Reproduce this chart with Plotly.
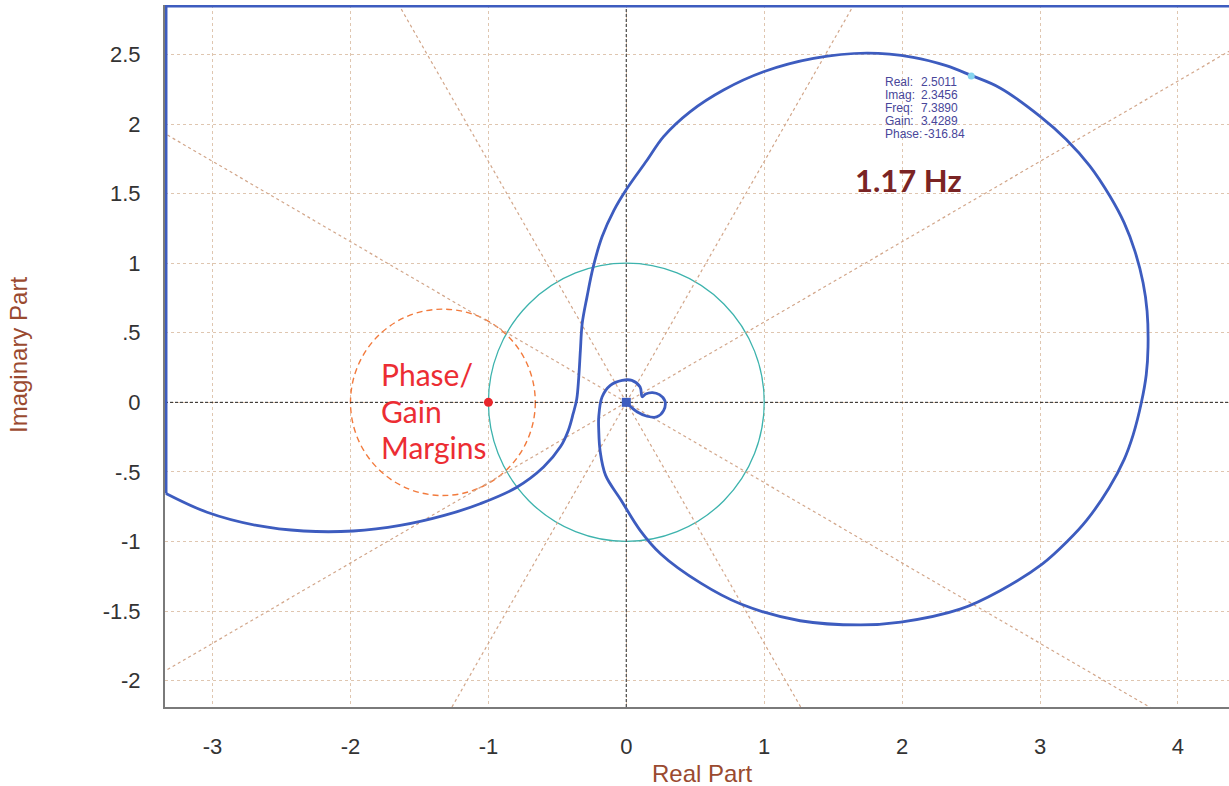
import numpy as np
import plotly.graph_objects as go

# ---------------- data ----------------
# clipped part of the Nyquist locus (held at the frame edges)
edge_re = [4.40, -3.338, -3.338]
edge_im = [2.848, 2.848, -0.655]

# main Nyquist locus (real, imaginary)
nyq_re = [-3.338, -3.04, -2.68, -2.34, -1.98, -1.64, -1.32, -1.06, -0.80, -0.60, -0.478, -0.42,
          -0.385, -0.36, -0.345, -0.333, -0.32, -0.285, -0.24, -0.176, -0.09, 0.0, 0.15, 0.27,
          0.464, 0.705, 0.995, 1.357, 1.744, 2.08, 2.32, 2.50, 2.71, 3.0, 3.19, 3.36, 3.506,
          3.61, 3.687, 3.747, 3.776, 3.783, 3.77, 3.735, 3.675, 3.61, 3.50, 3.34, 3.20, 3.015,
          2.71, 2.42, 1.99, 1.70, 1.26, 0.83, 0.54, 0.25, 0.10, -0.04, -0.15, -0.19, -0.20,
          -0.20, -0.176, -0.116, -0.03, 0.04, 0.10, 0.115, 0.14, 0.19, 0.24, 0.28, 0.27, 0.22,
          0.15, 0.08, 0.03, 0.0]
nyq_im = [-0.655, -0.79, -0.885, -0.925, -0.925, -0.885, -0.813, -0.729, -0.614, -0.465, -0.32, -0.2,
          -0.08, 0.02, 0.18, 0.374, 0.566, 0.758, 0.973, 1.19, 1.38, 1.53, 1.74, 1.91,
          2.09, 2.245, 2.376, 2.472, 2.51, 2.48, 2.42, 2.35, 2.26, 2.056, 1.89, 1.70, 1.483,
          1.29, 1.089, 0.86, 0.656, 0.40, 0.198, 0.0, -0.234, -0.41, -0.616, -0.845, -0.997, -1.163,
          -1.354, -1.487, -1.58, -1.60, -1.57, -1.45, -1.30, -1.09, -0.92, -0.70, -0.525, -0.35, -0.2,
          -0.106, 0.038, 0.122, 0.158, 0.158, 0.11, 0.04, 0.06, 0.07, 0.055, 0.01, -0.06, -0.105,
          -0.10, -0.07, -0.03, 0.0]

# cursor read-out
cursor_re = 2.5011
cursor_im = 2.3456
info_labels = ["Real:", "Imag:", "Freq:", "Gain:", "Phase:"]
info_values = ["2.5011", "2.3456", "7.3890", "3.4289", "-316.84"]

# reference circles: unit circle and margin circle
unit_c = (0.0, 0.0)
unit_r = 1.0
margin_c = (-1.33, 0.0)
margin_r = 0.67
crit_point = (-1.0, 0.0)

# radial guide angles (degrees)
radial_angles = [30, 60, 120, 150, 210, 240, 300, 330]

x_ticks = [-3, -2, -1, 0, 1, 2, 3, 4]
x_ticktext = ["-3", "-2", "-1", "0", "1", "2", "3", "4"]
y_ticks = [2.5, 2, 1.5, 1, 0.5, 0, -0.5, -1, -1.5, -2]
y_ticktext = ["2.5", "2", "1.5", "1", ".5", "0", "-.5", "-1", "-1.5", "-2"]

x_range = [-3.345, 4.37]
y_range = [-2.19, 2.856]

# ---------------- figure ----------------
fig = go.Figure()

# radial guides
rx, ry = [], []
for a in radial_angles:
    t = np.deg2rad(a)
    rx += [0, 10 * np.cos(t), None]
    ry += [0, 10 * np.sin(t), None]
fig.add_trace(go.Scatter(x=rx, y=ry, mode="lines",
                         line=dict(color="#d2a68a", width=1.2, dash="dot"),
                         hoverinfo="skip", showlegend=False))

# zero axes (dashed black)
fig.add_trace(go.Scatter(x=[x_range[0], x_range[1]], y=[0, 0], mode="lines",
                         line=dict(color="#222222", width=1, dash="3px,2px"),
                         hoverinfo="skip", showlegend=False))
fig.add_trace(go.Scatter(x=[0, 0], y=[y_range[0], y_range[1]], mode="lines",
                         line=dict(color="#555555", width=1.3, dash="3px,2px"),
                         hoverinfo="skip", showlegend=False))

# circles
fig.add_shape(type="circle", xref="x", yref="y",
              x0=unit_c[0] - unit_r, x1=unit_c[0] + unit_r,
              y0=unit_c[1] - unit_r, y1=unit_c[1] + unit_r,
              line=dict(color="#3db3ad", width=1.3), layer="between")
fig.add_shape(type="circle", xref="x", yref="y",
              x0=margin_c[0] - margin_r, x1=margin_c[0] + margin_r,
              y0=margin_c[1] - margin_r, y1=margin_c[1] + margin_r,
              line=dict(color="#f27a3c", width=1.4, dash="6px,4px"), layer="between")

# Nyquist locus
fig.add_trace(go.Scatter(x=edge_re, y=edge_im, mode="lines",
                         line=dict(color="#3d5cbf", width=3),
                         hoverinfo="skip", showlegend=False))
fig.add_trace(go.Scatter(x=nyq_re, y=nyq_im, mode="lines",
                         line=dict(color="#3d5cbf", width=2.8, shape="spline", smoothing=1.0),
                         showlegend=False))

# markers
fig.add_trace(go.Scatter(x=[crit_point[0]], y=[crit_point[1]], mode="markers",
                         marker=dict(color="#e8262c", size=9), showlegend=False))
fig.add_trace(go.Scatter(x=[0], y=[0], mode="markers",
                         marker=dict(color="#3d5cbf", size=9, symbol="square"), showlegend=False))
fig.add_trace(go.Scatter(x=[cursor_re], y=[cursor_im], mode="markers",
                         marker=dict(color="#86d4ee", size=7), showlegend=False))

# text annotations
red = "#ec2d33"
for txt, yy in [("Phase/", 0.205), ("Gain", -0.062), ("Margins", -0.322)]:
    fig.add_annotation(x=-1.79, y=yy, xref="x", yref="y", text=txt, showarrow=False,
                       xanchor="left", yanchor="middle",
                       font=dict(family="Lato", size=30, color=red))

fig.add_annotation(x=1.645, y=1.60, xref="x", yref="y", text="<b>1.17 Hz</b>", showarrow=False,
                   xanchor="left", yanchor="middle",
                   font=dict(family="Lato", size=31, color="#7a2424"))

# cursor read-out box, one line at a time (13 px apart)
px_per_unit_y = 139.0
for i, (lab, val) in enumerate(zip(info_labels, info_values)):
    yy = 2.30 - i * 13 / px_per_unit_y
    fig.add_annotation(x=1.862, y=yy, xref="x", yref="y", text=lab, showarrow=False,
                       xanchor="left", yanchor="middle",
                       font=dict(family="Liberation Sans", size=12, color="#48469a"))
    fig.add_annotation(x=2.125 + (0.02 if i == 4 else 0), y=yy, xref="x", yref="y", text=val,
                       showarrow=False, xanchor="left", yanchor="middle",
                       font=dict(family="Liberation Sans", size=12, color="#48469a"))

# axis titles
fig.add_annotation(x=(702 - 165) / 1064, y=-(773 - 707) / 702, xref="paper", yref="paper",
                   text="Real Part", showarrow=False, xanchor="center", yanchor="middle",
                   font=dict(family="Liberation Sans", size=24, color="#9a4a30"))
fig.add_annotation(x=-(165 - 18) / 1064, y=(707 - 355) / 702, xref="paper", yref="paper",
                   text="Imaginary Part", showarrow=False, textangle=-90,
                   xanchor="center", yanchor="middle",
                   font=dict(family="Liberation Sans", size=24, color="#9a4a30"))

fig.update_layout(
    width=1229, height=786,
    margin=dict(l=165, r=0, t=5, b=79),
    paper_bgcolor="white", plot_bgcolor="white",
    showlegend=False,
    font=dict(family="Liberation Sans", size=22, color="#333333"),
    xaxis=dict(range=x_range, tickvals=x_ticks, ticktext=x_ticktext,
               showgrid=True, gridcolor="#dfc6b0", griddash="dot", gridwidth=1.2,
               zeroline=False, showline=True, linecolor="#7a7a7a", linewidth=2,
               ticks="outside", ticklen=0, ticklabelstandoff=19, layer="below traces",
               tickfont=dict(size=22, color="#333333")),
    yaxis=dict(range=y_range, tickvals=y_ticks, ticktext=y_ticktext,
               showgrid=True, gridcolor="#dfc6b0", griddash="dot", gridwidth=1.2,
               zeroline=False, showline=True, linecolor="#7a7a7a", linewidth=2,
               ticks="outside", ticklen=0, ticklabelstandoff=18, layer="below traces",
               tickfont=dict(size=22, color="#333333")),
)

fig.write_html("out.html", config={"displayModeBar": False},
               post_script="document.body.style.margin='0px';")
